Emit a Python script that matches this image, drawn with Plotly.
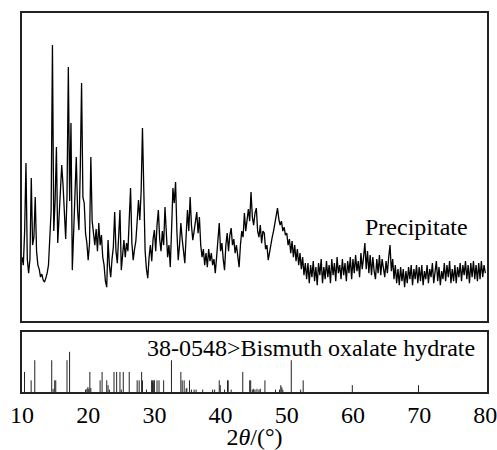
import plotly.graph_objects as go

# XRD scan of the precipitate: start angle, step (deg) and intensities (a.u.)
scan_start = 10.0
scan_step = 0.2
intensity = [
    640, 560, 900, 1580, 620,
    480, 620, 1430, 760, 840,
    1240, 700, 560, 520, 440,
    470, 410, 390, 430, 480,
    560, 820, 1100, 2760, 900,
    1200, 1740, 780, 1050, 1300,
    1560, 1360, 1020, 820, 1250,
    2540, 1200, 1980, 510, 900,
    1380, 1640, 1100, 910, 1500,
    2380, 1240, 1180, 880, 780,
    610, 780, 1640, 1000, 880,
    760, 920, 700, 980, 760,
    860, 640, 560, 400, 340,
    810, 560, 440, 620, 740,
    1090, 700, 580, 860, 1110,
    510, 680, 810, 640, 780,
    700, 1000, 1330, 780, 610,
    720, 800, 1000, 1210, 1010,
    1300, 1930, 1100, 700, 520,
    430, 640, 760, 600, 820,
    910, 700, 960, 1110, 820,
    700, 900, 760, 1140, 880,
    640, 760, 540, 920, 1330,
    1180, 1390, 900, 610, 760,
    980, 820, 700, 580, 860,
    1110, 900, 1240, 960, 810,
    900, 1000, 1090, 880, 1040,
    760, 640, 720, 560, 680,
    540, 720, 600, 680, 560,
    620, 480, 640, 820, 980,
    700, 780, 620, 510, 760,
    880, 700, 860, 930, 760,
    820, 680, 760, 620, 540,
    760, 900, 840, 1080, 900,
    1010, 1120, 1000, 1290, 1040,
    960, 1080, 1130, 900, 840,
    960, 780, 900, 880, 720,
    760, 610, 700, 780, 840,
    900, 980, 1060, 1130, 1020,
    960, 1000, 900, 940, 860,
    880, 760, 820, 680, 800,
    640, 760, 600, 720, 560,
    680, 520, 640, 460, 580,
    420, 580, 380, 560, 440,
    600, 400, 540, 360, 580,
    460, 620, 380, 540, 420,
    600, 440, 560, 380, 620,
    460, 580, 400, 640, 480,
    560, 420, 620, 460, 580,
    400, 600, 480, 640, 420,
    620, 480, 660, 500, 600,
    440, 680, 520, 640, 780,
    520, 700, 480, 660, 460,
    640, 500, 420, 620, 480,
    660, 460, 620, 520, 440,
    600, 480, 640, 760, 500,
    620, 420, 560, 380, 520,
    360, 540, 400, 520, 340,
    500, 380, 540, 420, 560,
    360, 520, 420, 560, 380,
    540, 400, 560, 360, 500,
    420, 560, 380, 520, 440,
    580, 380, 520, 600, 400,
    540, 360, 500, 420, 580,
    400, 560, 440, 600, 380,
    520, 400, 560, 380, 540,
    440, 580, 400, 560, 460,
    600, 420, 560, 380, 580,
    440, 600, 420, 560, 400,
    580, 420, 600, 440, 560,
    480,
]
two_theta = [scan_start + scan_step * i for i in range(len(intensity))]

# Reference pattern PDF 38-0548 (Bismuth oxalate hydrate): positions and relative intensities
ref_pos = [10.38, 11.38, 11.93, 14.49, 14.70, 14.94, 15.10, 16.80, 17.19,
           19.60, 19.80, 19.95, 20.10, 20.25, 20.40, 21.80, 22.10, 22.80, 23.00, 23.20,
           23.90, 24.30, 24.80, 25.00, 25.30, 26.20, 27.40, 27.70, 28.07, 28.20, 28.80,
           29.58, 29.70, 29.78, 29.90, 30.00, 30.40, 30.70, 31.40, 32.58,
           34.00, 34.20, 34.50, 34.80, 34.90, 35.30, 35.60, 36.00, 36.30, 37.30,
           38.80, 39.10, 39.80, 39.95, 40.60, 41.05, 41.15, 41.60, 43.35,
           44.40, 44.55, 44.80, 45.00, 45.20, 45.50, 45.80, 46.00, 46.70,
           48.30, 48.90, 49.10, 49.25, 49.40, 50.68, 52.10, 52.48, 59.90, 69.90]
ref_int = [50, 29, 79, 79, 8, 29, 29, 79, 100,
           6, 8, 12, 8, 50, 10, 29, 50, 29, 17, 6,
           50, 50, 50, 6, 50, 50, 29, 29, 50, 29, 6,
           29, 29, 22, 29, 29, 29, 29, 29, 79,
           50, 29, 29, 8, 10, 29, 6, 6, 6, 6,
           6, 6, 29, 17, 6, 29, 29, 6, 50,
           29, 29, 6, 8, 6, 8, 6, 8, 29,
           6, 6, 17, 12, 6, 79, 6, 29, 17, 17]

stick_x, stick_y = [], []
for p, v in zip(ref_pos, ref_int):
    stick_x += [p, p, None]
    stick_y += [0, v, None]

x_ticks = [10, 20, 30, 40, 50, 60, 70, 80]
x_range = [10, 80.25]

FONT = "Liberation Serif, Times New Roman, serif"

fig = go.Figure()
fig.add_trace(go.Scatter(x=two_theta, y=intensity, mode="lines",
                         line=dict(color="black", width=1.3),
                         xaxis="x", yaxis="y", showlegend=False, hoverinfo="skip"))
fig.add_trace(go.Scatter(x=stick_x, y=stick_y, mode="lines",
                         line=dict(color="#222222", width=1),
                         xaxis="x2", yaxis="y2", showlegend=False, hoverinfo="skip"))

axis_common = dict(showline=True, mirror=True, linecolor="#222222", linewidth=1.5,
                   showgrid=False, zeroline=False, ticks="", ticklen=0, automargin=False)

fig.update_layout(
    width=497, height=450,
    margin=dict(l=22, r=10, t=13, b=58),
    paper_bgcolor="white", plot_bgcolor="white",
    font=dict(family=FONT, size=24, color="black"),
    xaxis=dict(domain=[0, 1], range=x_range, anchor="y", showticklabels=False, **axis_common),
    yaxis=dict(domain=[0.187, 1], range=[0, 3080], showticklabels=False, **axis_common),
    xaxis2=dict(domain=[0, 1], range=x_range, anchor="y2", tickvals=x_ticks,
                ticktext=[str(t) for t in x_ticks], ticklabeloverflow="allow",
                tickfont=dict(family=FONT, size=24, color="black"),
                title=dict(text="2<i>θ</i>/(°)", font=dict(family=FONT, size=24, color="black"),
                           standoff=7),
                **axis_common),
    yaxis2=dict(domain=[0, 0.159], range=[0, 150], showticklabels=False, **axis_common),
    annotations=[
        dict(x=0.9634, y=940, xref="paper", yref="y", text="Precipitate", showarrow=False,
             xanchor="right", yanchor="middle", font=dict(family=FONT, size=24, color="black")),
        dict(x=0.9785, y=109, xref="paper", yref="y2", text="38-0548>Bismuth oxalate hydrate",
             showarrow=False, xanchor="right", yanchor="middle",
             font=dict(family=FONT, size=24, color="black")),
    ],
)

fig.write_html("out.html")
